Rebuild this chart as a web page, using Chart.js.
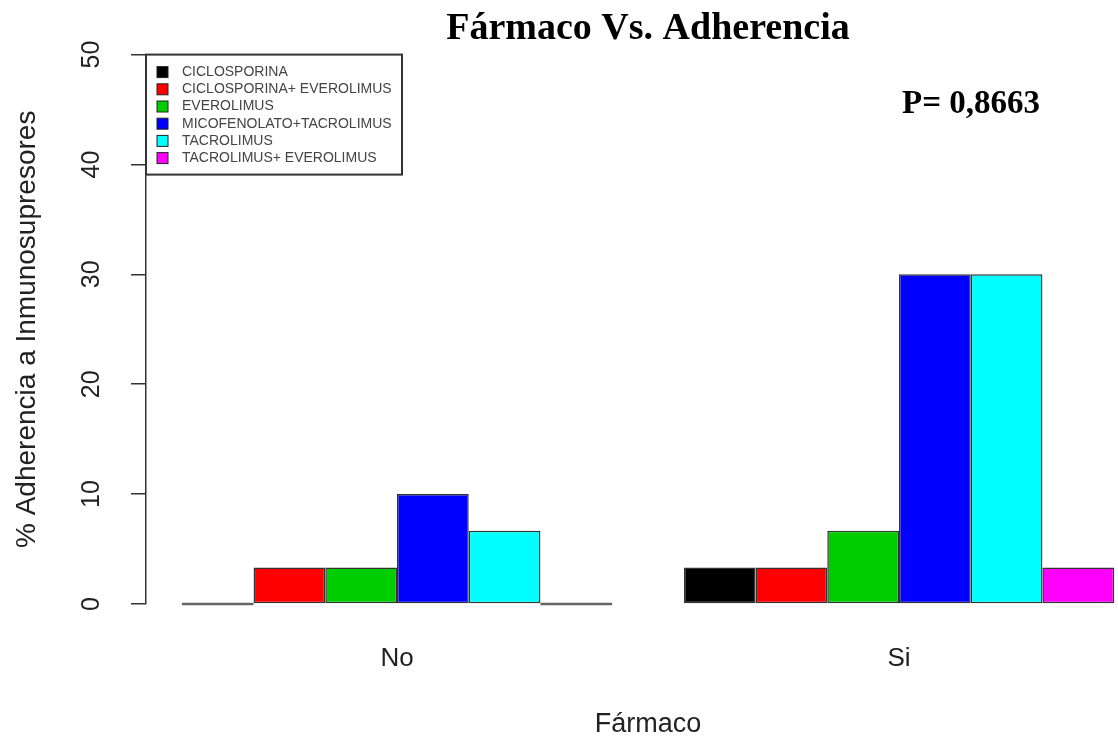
<!DOCTYPE html>
<html>
<head>
<meta charset="utf-8">
<script src="https://cdn.jsdelivr.net/npm/chart.js@4/dist/chart.umd.min.js"></script>
<style>
    html, body { margin: 0; padding: 0; background: #fff; overflow: hidden; }
    /* the original R plot region runs past the right edge of the picture */
    .chart-wrap { position: relative; width: 1296px; height: 744px; }
</style>
</head>
<body>
<div class="chart-wrap"><canvas id="adherenceChart"></canvas></div>
<script>
        // Data
        const groups = ['No', 'Si'];
        const drugs = [
            'CICLOSPORINA',
            'CICLOSPORINA+ EVEROLIMUS',
            'EVEROLIMUS',
            'MICOFENOLATO+TACROLIMUS',
            'TACROLIMUS',
            'TACROLIMUS+ EVEROLIMUS'
        ];
        const drugColors = ['#000000', '#FF0000', '#00CD00', '#0000FF', '#00FFFF', '#FF00FF'];
        const pctNo = [0, 3.33, 3.33, 10, 6.67, 0];
        const pctSi = [3.33, 3.33, 6.67, 30, 30, 3.33];
        const yTicks = [0, 10, 20, 30, 40, 50];
        const pValueText = 'P= 0,8663';
        const pValueY = 45.5;

        const sansFont = "'Liberation Sans', Arial, sans-serif";
        const serifFont = "'Liberation Serif', 'Times New Roman', serif";

        let adherenceChart;

        // Extra drawing: zero bars, rotated y labels, boxed legend, p value
        const extrasPlugin = {
            id: 'extras',
            afterDatasetsDraw(chart) {
                const ctx = chart.ctx;
                ctx.save();
                ctx.strokeStyle = '#666';
                ctx.lineWidth = 2.5;
                chart.data.datasets.forEach((ds, i) => {
                    chart.getDatasetMeta(i).data.forEach((bar, j) => {
                        if (ds.data[j] === 0) {
                            ctx.beginPath();
                            ctx.moveTo(bar.x - bar.width / 2, bar.y);
                            ctx.lineTo(bar.x + bar.width / 2, bar.y);
                            ctx.stroke();
                        }
                    });
                });
                ctx.restore();
            },
            afterDraw(chart) {
                const ctx = chart.ctx;
                const area = chart.chartArea;
                const ys = chart.scales.y;

                // y tick labels, parallel to the axis
                ctx.save();
                ctx.fillStyle = '#222';
                ctx.font = '25px ' + sansFont;
                ctx.textAlign = 'center';
                ctx.textBaseline = 'middle';
                yTicks.forEach(v => {
                    ctx.save();
                    ctx.translate(ys.right - 54, ys.getPixelForValue(v));
                    ctx.rotate(-Math.PI / 2);
                    ctx.fillText(String(v), 0, 0);
                    ctx.restore();
                });
                ctx.restore();

                // legend box in the top left corner
                const lx = area.left, ly = area.top;
                ctx.save();
                ctx.strokeStyle = '#333';
                ctx.lineWidth = 2;
                ctx.strokeRect(lx, ly, 256, 120);
                ctx.font = '14px ' + sansFont;
                ctx.textBaseline = 'middle';
                ctx.textAlign = 'left';
                drugs.forEach((name, i) => {
                    const cy = ly + 17.5 + i * 17.2;
                    ctx.fillStyle = drugColors[i];
                    ctx.fillRect(lx + 11, cy - 5.5, 11, 11);
                    ctx.lineWidth = 1;
                    ctx.strokeStyle = '#222';
                    ctx.strokeRect(lx + 11, cy - 5.5, 11, 11);
                    ctx.fillStyle = '#444';
                    ctx.fillText(name, lx + 36, cy);
                });
                ctx.restore();

                // p value
                ctx.save();
                ctx.fillStyle = '#000';
                ctx.font = 'bold 33px ' + serifFont;
                ctx.textAlign = 'center';
                ctx.textBaseline = 'middle';
                ctx.fillText(pValueText, area.left + 825, ys.getPixelForValue(pValueY));
                ctx.restore();
            }
        };

        function initChart() {
            const ctx = document.getElementById('adherenceChart').getContext('2d');
            adherenceChart = new Chart(ctx, {
                type: 'bar',
                data: {
                    labels: groups,
                    datasets: drugs.map((name, i) => ({
                        label: name,
                        data: [pctNo[i], pctSi[i]],
                        backgroundColor: drugColors[i],
                        borderColor: '#333',
                        borderWidth: 1.5,
                        borderSkipped: false,
                        categoryPercentage: 6 / 7,
                        barPercentage: 1.0
                    }))
                },
                options: {
                    responsive: true,
                    maintainAspectRatio: false,
                    animation: false,
                    layout: { padding: 0 },
                    plugins: {
                        legend: { display: false },
                        tooltip: { enabled: false },
                        title: {
                            display: true,
                            text: 'Fármaco Vs. Adherencia',
                            color: '#000',
                            font: { family: serifFont, size: 38, weight: 'bold' },
                            padding: { top: 6, bottom: 3 }
                        }
                    },
                    scales: {
                        x: {
                            grid: { display: false, drawTicks: false },
                            border: { display: false },
                            ticks: {
                                color: '#222',
                                font: { family: sansFont, size: 26 },
                                padding: 39
                            },
                            title: {
                                display: true,
                                text: 'Fármaco',
                                color: '#222',
                                font: { family: sansFont, size: 27 },
                                padding: { top: 0, bottom: 3 }
                            },
                            afterFit: (scale) => { scale.height = 140; }
                        },
                        y: {
                            min: 0,
                            max: 50,
                            ticks: { display: false, stepSize: 10 },
                            grid: {
                                drawOnChartArea: false,
                                drawTicks: true,
                                tickLength: 15,
                                color: '#333',
                                lineWidth: 1.5
                            },
                            border: { color: '#333', width: 1.5 },
                            title: {
                                display: true,
                                text: '% Adherencia a Inmunosupresores',
                                color: '#222',
                                font: { family: sansFont, size: 28 },
                                padding: { top: 10, bottom: 0 }
                            },
                            afterFit: (scale) => { scale.width = 146; }
                        },
                        // empty axis on the right so the title centres over the plot
                        yRight: {
                            type: 'linear',
                            position: 'right',
                            ticks: { display: false },
                            grid: { display: false, drawTicks: false },
                            border: { display: false },
                            afterFit: (scale) => { scale.width = 146; }
                        }
                    }
                },
                plugins: [extrasPlugin]
            });
        }

        window.onload = function() {
            initChart();
        }
</script>
</body>
</html>
